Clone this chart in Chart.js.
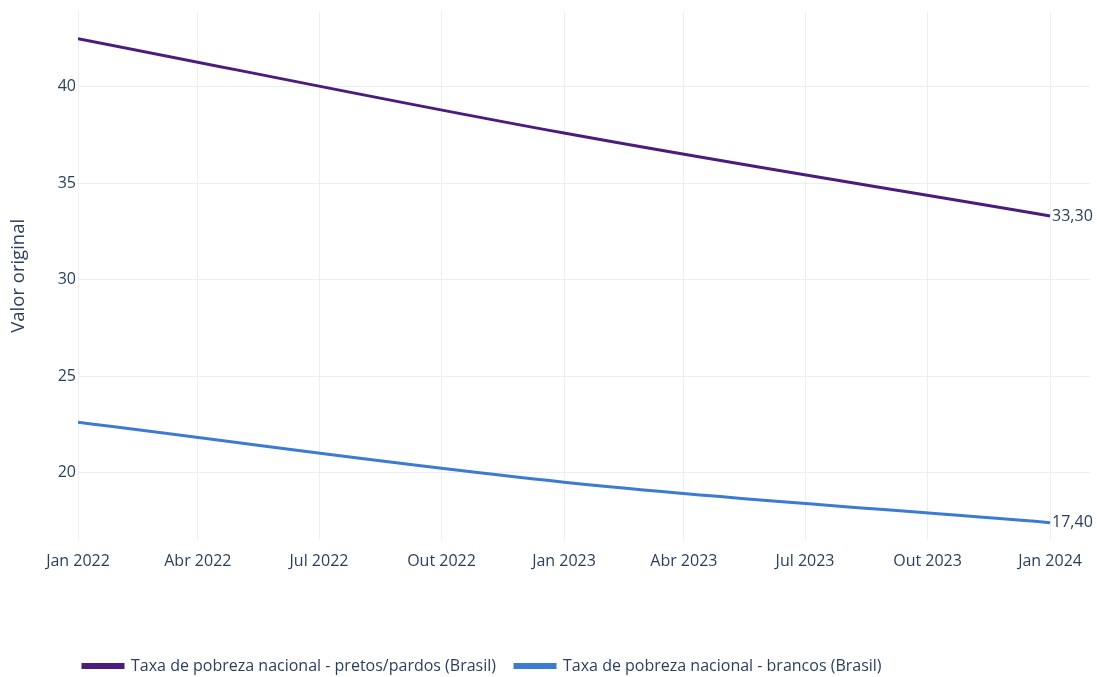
<!DOCTYPE html>
<html>
<head>
<meta charset="utf-8">
<script src="https://cdn.jsdelivr.net/npm/chart.js@4/dist/chart.umd.min.js"></script>
<style>
html,body{margin:0;padding:0;background:#fff;}
#wrap{width:1097px;height:677px;}
</style>
</head>
<body>
<div id="wrap"><canvas id="c"></canvas></div>
<script>
// Days since 1 Jan 2022
const dates = [0, 365, 730];
const pretosPardos = [42.5, 37.6, 33.3];
const brancos = [22.6, 19.5, 17.4];
const seriesNames = ['Taxa de pobreza nacional - pretos/pardos (Brasil)', 'Taxa de pobreza nacional - brancos (Brasil)'];
const endLabels = ['33,30', '17,40'];
const xTickValues = [0, 90, 181, 273, 365, 455, 546, 638, 730];
const xTickLabels = ['Jan 2022','Abr 2022','Jul 2022','Out 2022','Jan 2023','Abr 2023','Jul 2023','Out 2023','Jan 2024'];
const yTickValues = [20, 25, 30, 35, 40];

const textColor = '#2a3f5f';
const gridColor = '#ECEEF5';
const FONT = '"Open Sans", "Noto Sans", sans-serif';

const endLabelPlugin = {
  id: 'endLabels',
  afterDatasetsDraw(chart) {
    const ctx = chart.ctx;
    ctx.save();
    ctx.font = '16px ' + FONT;
    ctx.fillStyle = textColor;
    ctx.textAlign = 'left';
    ctx.textBaseline = 'middle';
    chart.data.datasets.forEach((ds, i) => {
      const meta = chart.getDatasetMeta(i);
      const pt = meta.data[meta.data.length - 1];
      ctx.fillText(endLabels[i], pt.x + 2, pt.y);
    });
    ctx.restore();
  }
};

const legendShift = {
  id: 'legendShift',
  afterLayout(chart) {
    const lg = chart.legend;
    if (lg) { lg.left += 64; lg.right += 64; lg.top += 7; lg.bottom += 7; }
  }
};

new Chart(document.getElementById('c'), {
  type: 'line',
  data: {
    datasets: [
      {
        label: seriesNames[0],
        data: dates.map((d, i) => ({x: d, y: pretosPardos[i]})),
        borderColor: '#4B1C7D',
        backgroundColor: '#4B1C7D',
        borderWidth: 3,
        pointRadius: 0,
        tension: 0.35
      },
      {
        label: seriesNames[1],
        data: dates.map((d, i) => ({x: d, y: brancos[i]})),
        borderColor: '#3B7BD4',
        backgroundColor: '#3B7BD4',
        borderWidth: 3,
        pointRadius: 0,
        tension: 0.35
      }
    ]
  },
  options: {
    responsive: true,
    maintainAspectRatio: false,
    animation: false,
    layout: { padding: { top: 9, right: 7, left: 0, bottom: 0 } },
    scales: {
      x: {
        type: 'linear',
        min: 0,
        max: 760,
        border: { display: false },
        grid: { color: gridColor, drawTicks: false, lineWidth: 1 },
        afterBuildTicks: (s) => { s.ticks = xTickValues.map(v => ({value: v})); },
        afterFit: (s) => { s.height = 92; },
        ticks: {
          padding: 12,
          maxRotation: 0,
          autoSkip: false,
          color: textColor,
          font: { family: FONT, size: 16 },
          callback: (v) => { const k = xTickValues.indexOf(v); return k >= 0 ? xTickLabels[k] : ''; }
        }
      },
      y: {
        type: 'linear',
        min: 16.5,
        max: 43.9,
        border: { display: false },
        grid: { color: gridColor, drawTicks: false, lineWidth: 1 },
        afterBuildTicks: (s) => { s.ticks = yTickValues.map(v => ({value: v})); },
        afterFit: (s) => { s.width = 78; },
        ticks: {
          padding: 2,
          color: textColor,
          font: { family: FONT, size: 16 }
        },
        title: {
          display: true,
          text: 'Valor original',
          color: textColor,
          font: { family: FONT, size: 18.5 },
          padding: { top: 8, bottom: 0 }
        }
      }
    },
    plugins: {
      legend: {
        position: 'bottom',
        align: 'start',
        labels: {
          color: textColor,
          font: { family: FONT, size: 16 },
          boxWidth: 40,
          boxHeight: 3,
          padding: 19
        }
      },
      tooltip: { enabled: false }
    }
  },
  plugins: [endLabelPlugin, legendShift]
});
</script>
</body>
</html>
